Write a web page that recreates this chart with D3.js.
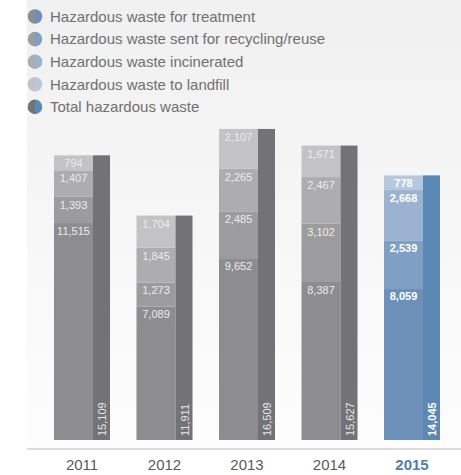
<!DOCTYPE html>
<html><head><meta charset="utf-8">
<script src="https://cdn.jsdelivr.net/npm/d3@7"></script>
<style>html,body{margin:0;padding:0;background:#fff;}svg{display:block;font-family:"Liberation Sans",Arial,sans-serif;}</style>
</head><body>
<svg id="c" width="461" height="475"></svg>
<script>
const years = ["2011","2012","2013","2014","2015"];
const seriesNames = ["Hazardous waste for treatment","Hazardous waste sent for recycling/reuse","Hazardous waste incinerated","Hazardous waste to landfill","Total hazardous waste"];
const treatment = [11515, 7089, 9652, 8387, 8059];
const recycling = [1393, 1273, 2485, 3102, 2539];
const incinerated = [1407, 1845, 2265, 2467, 2668];
const landfill = [794, 1704, 2107, 1671, 778];
const total = [15109, 11911, 16509, 15627, 14045];

const greyCols = ["#8d8d8f","#9c9c9e","#adadaf","#c3c3c5","#737377"];
const blueCols = ["#6d90b9","#809fc4","#9bb2d0","#b8c8dc","#5c88b6"];

const svg = d3.select("#c");
const defs = svg.append("defs");
const g = defs.append("linearGradient").attr("id","bg").attr("x1",0).attr("y1",0).attr("x2",0).attr("y2",1);
g.append("stop").attr("offset","0%").attr("stop-color","#f0f0f0");
g.append("stop").attr("offset","100%").attr("stop-color","#fdfdfd");
svg.append("rect").attr("x",27).attr("y",0).attr("width",434).attr("height",449).attr("fill","url(#bg)");

// legend
seriesNames.forEach((name,i)=>{
  const cy = 16.5 + i*22.6, cx = 35, r = 7.3;
  const arc = d3.arc().innerRadius(0).outerRadius(r);
  const lg = svg.append("g").attr("transform",`translate(${cx},${cy})`);
  lg.append("path").attr("d",arc({startAngle:Math.PI,endAngle:2*Math.PI})).attr("fill",greyCols[i]);
  lg.append("path").attr("d",arc({startAngle:0,endAngle:Math.PI})).attr("fill",blueCols[i]);
  svg.append("text").attr("x",50).attr("y",cy+5.2).attr("font-size",15).attr("fill","#707070").text(name);
});

const x = d3.scaleBand().domain(years).range([40.75,453.25]).paddingInner(0.321).paddingOuter(0.1605);
const y = d3.scaleLinear().domain([0,17000]).range([440,119.7]);
const bw = x.bandwidth();
const sw = bw*39/56;

const stackData = years.map((yr,i)=>({year:yr, treatment:treatment[i], recycling:recycling[i], incinerated:incinerated[i], landfill:landfill[i]}));
const keys = ["treatment","recycling","incinerated","landfill"];
const stacked = d3.stack().keys(keys)(stackData);

stacked.forEach((layer,k)=>{
  layer.forEach((d,i)=>{
    const last = years[i]==="2015";
    const x0 = x(years[i]);
    svg.append("rect").attr("x",x0).attr("y",y(d[1])).attr("width",sw).attr("height",y(d[0])-y(d[1]))
      .attr("fill", last?blueCols[k]:greyCols[k]);
    svg.append("text").attr("x",x0+sw/2).attr("y",y(d[1])+12).attr("text-anchor","middle")
      .attr("font-size",11).attr("font-weight",last?"bold":"normal")
      .attr("fill",last?"#ffffff":"#ececec").text(d3.format(",")(d.data[keys[k]]));
  });
});

years.forEach((yr,i)=>{
  const last = yr==="2015";
  const x0 = x(yr)+sw;
  svg.append("rect").attr("x",x0).attr("y",y(total[i])).attr("width",bw-sw).attr("height",y(0)-y(total[i]))
    .attr("fill", last?blueCols[4]:greyCols[4]);
  svg.append("text").attr("transform",`translate(${x0+(bw-sw)/2+4.5},${y(0)-4}) rotate(-90)`)
    .attr("font-size",11).attr("font-weight",last?"bold":"normal")
    .attr("fill",last?"#ffffff":"#e6e6e6").text(d3.format(",")(total[i]));
});

// axis
const ax = svg.append("g").attr("transform","translate(0,449)").call(d3.axisBottom(x).tickSize(0).tickPadding(10));
ax.select(".domain").remove();
svg.append("line").attr("x1",27).attr("x2",461).attr("y1",449).attr("y2",449).attr("stroke","#b9b9b9").attr("stroke-width",1);
ax.selectAll("text").attr("font-size",15).attr("font-family","Liberation Sans, Arial, sans-serif")
  .attr("fill",d=>d==="2015"?"#4f7db0":"#5a5a5a").attr("font-weight",d=>d==="2015"?"bold":"normal");
</script>
</body></html>
